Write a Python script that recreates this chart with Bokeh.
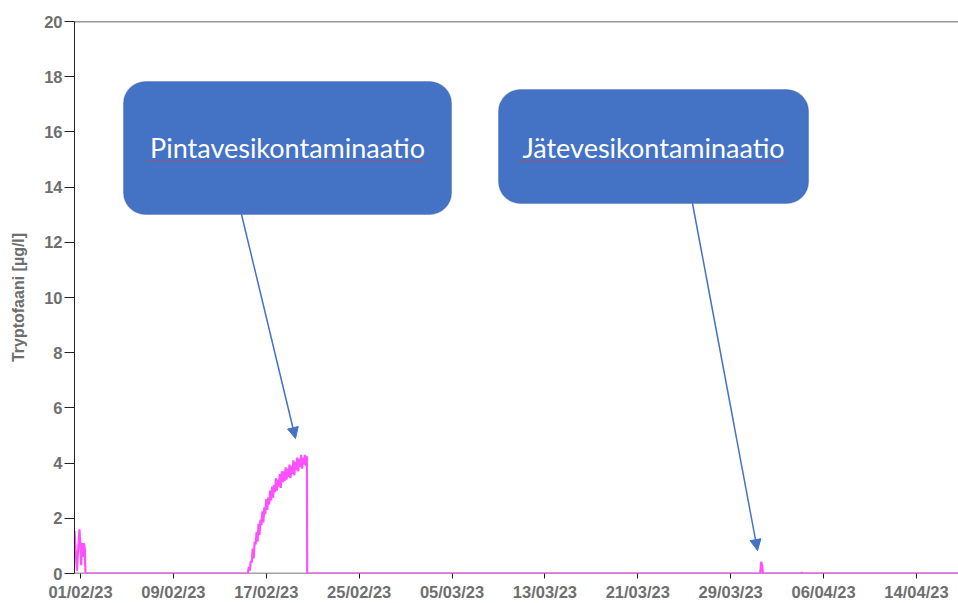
import pandas as pd
from bokeh.plotting import figure
from bokeh.models import (ColumnDataSource, FixedTicker, DatetimeTickFormatter, Span,
                          BoxAnnotation, Label, Arrow, NormalHead)
from bokeh.embed import file_html
from bokeh.resources import INLINE

# ---------------- data ----------------
burst1_times = ["2023-01-31 11:40", "2023-01-31 13:40", "2023-01-31 16:45", "2023-01-31 18:50",
                "2023-01-31 21:55", "2023-02-01 00:00", "2023-02-01 01:30", "2023-02-01 03:05",
                "2023-02-01 05:10", "2023-02-01 06:50", "2023-02-01 08:55", "2023-02-01 10:20"]
burst1_values = [1.55, 0.90, 0.10, 0.80, 1.60, 0.90, 0.30, 1.10, 0.60, 1.10, 0.90, 0.00]

surface_start = "2023-02-15 10:00"   # 2-hourly samples
surface_values = [0.00, 0.25, 0.10, 0.45, 0.40, 0.90, 0.55, 1.15, 1.05, 1.50, 1.15, 1.80,
                  1.40, 1.95, 1.75, 2.25, 1.85, 2.40, 2.15, 2.70, 2.30, 2.75, 2.50, 3.00,
                  2.65, 3.15, 2.75, 3.20, 2.95, 3.45, 3.00, 3.40, 3.15, 3.60, 3.10, 3.70,
                  3.30, 3.70, 3.35, 3.85, 3.40, 3.80, 3.50, 3.95, 3.45, 3.90, 3.60, 4.10,
                  3.55, 4.05, 3.75, 4.20, 3.70, 4.15, 3.85, 4.30, 3.80, 4.20, 3.95, 4.30,
                  3.90, 4.25]

tail_times = ["2023-02-20 12:40", "2023-03-31 13:00", "2023-03-31 15:00", "2023-03-31 17:00",
              "2023-03-31 18:30", "2023-04-04 02:00", "2023-04-04 03:00", "2023-04-04 04:00",
              "2023-04-18 00:00"]
tail_values = [0.00, 0.00, 0.42, 0.30, 0.00, 0.00, 0.05, 0.00, 0.00]

tick_dates = ["2023-02-01", "2023-02-09", "2023-02-17", "2023-02-25", "2023-03-05",
              "2023-03-13", "2023-03-21", "2023-03-29", "2023-04-06", "2023-04-14"]
y_ticks = [0, 2, 4, 6, 8, 10, 12, 14, 16, 18, 20]

y_label = "Tryptofaani [µg/l]"
note1 = "Pintavesikontaminaatio"
note2 = "Jätevesikontaminaatio"

# ---------------- assemble series ----------------
surface_times = pd.date_range(surface_start, periods=len(surface_values), freq="2h")
times = (list(pd.to_datetime(burst1_times)) + [pd.Timestamp("2023-02-15 08:00")]
         + list(surface_times) + list(pd.to_datetime(tail_times)))
values = burst1_values + [0.0] + surface_values + tail_values
src = ColumnDataSource(dict(t=times, v=values))

x_start = pd.Timestamp("2023-01-31 11:36")
x_end = pd.Timestamp("2023-04-17 14:54")

p = figure(width=958, height=603, x_axis_type="datetime", output_backend="svg",
           toolbar_location=None, x_range=(x_start, x_end), y_range=(0, 20),
           min_border_left=74, min_border_top=21, min_border_right=0, min_border_bottom=30)
p.outline_line_color = None
p.xgrid.grid_line_color = None
p.ygrid.grid_line_color = None
p.background_fill_color = "white"

# grey baseline under the data (axis line itself hidden so the pink trace sits on top)
p.add_layout(Span(location=0, dimension="width", line_color="#444444", line_width=1.5,
                  level="underlay"))
p.line("t", "v", source=src, line_color="#ff50ff", line_width=2.2)

p.add_layout(Span(location=20, dimension="width", line_color="#333333", line_width=1.5))

# axes
tick_ms = [pd.Timestamp(d).value / 1e6 for d in tick_dates]
p.xaxis.ticker = FixedTicker(ticks=tick_ms)
fmt = "%d/%m/%y"
p.xaxis.formatter = DatetimeTickFormatter(days=fmt, months=fmt, hours=fmt, years=fmt,
                                          minutes=fmt, seconds=fmt, milliseconds=fmt,
                                          minsec=fmt, hourmin=fmt)
p.yaxis.ticker = FixedTicker(ticks=y_ticks)
for ax in (p.xaxis[0], p.yaxis[0]):
    ax.axis_line_color = "#222222"
    ax.major_tick_line_color = "#222222"
    ax.minor_tick_line_color = None
    ax.major_tick_in = 0
    ax.major_label_text_font = "Liberation Sans"
    ax.major_label_text_font_style = "bold"
    ax.major_label_text_font_size = "16.5px"
    ax.major_label_text_color = "#6e6e6e"
p.xaxis.axis_line_color = None
p.xaxis.major_tick_out = 5
p.xaxis.major_label_standoff = 4
p.yaxis.major_tick_out = 10
p.yaxis.major_label_standoff = 2
p.yaxis.axis_label = y_label
p.yaxis.axis_label_text_font = "Liberation Sans"
p.yaxis.axis_label_text_font_style = "bold"
p.yaxis.axis_label_text_font_size = "16px"
p.yaxis.axis_label_text_color = "#6e6e6e"
p.yaxis.axis_label_standoff = 14

# ---------------- annotations (pixel layout converted to data units) ----------------
day0 = pd.Timestamp("2023-02-01")
px_per_day = 11.61
px_per_unit = 27.6


def tx(xpx):
    return day0 + pd.Timedelta(days=(xpx - 80) / px_per_day)


def vy(ypx):
    return (573 - ypx) / px_per_unit


def box(x0, x1, y0, y1):
    return BoxAnnotation(left=tx(x0), right=tx(x1), top=vy(y0), bottom=vy(y1),
                         fill_color="#4472c4", fill_alpha=1.0, line_color="#2f528f",
                         line_width=1.2, border_radius=22, level="overlay")


for (x0, x1, y0, y1, txt, cx, cy, ux0, ux1) in [
        (123, 451, 81, 214, note1, 287, 147, 147, 427),
        (498, 808, 89, 203, note2, 653, 147, 518, 787)]:
    p.add_layout(box(x0, x1, y0, y1))
    p.add_layout(Arrow(x_start=tx(ux0), y_start=vy(161), x_end=tx(ux1), y_end=vy(161),
                       start=None, end=None, line_color="#d83a3a", line_width=1,
                       line_dash="2 2", level="overlay"))
    p.add_layout(Label(x=tx(cx), y=vy(cy), text=txt, text_align="center",
                       text_baseline="middle", text_color="white", text_font="Lato",
                       text_font_size="27px", level="overlay"))

for (x0, y0, x1, y1) in [(241, 214, 295, 438), (692, 203, 757, 550)]:
    p.add_layout(Arrow(x_start=tx(x0), y_start=vy(y0), x_end=tx(x1), y_end=vy(y1),
                       line_color="#4472c4", line_width=1.5,
                       end=NormalHead(size=11, fill_color="#4472c4", line_color="#4472c4")))

open("out.html", "w").write(file_html(p, INLINE))
